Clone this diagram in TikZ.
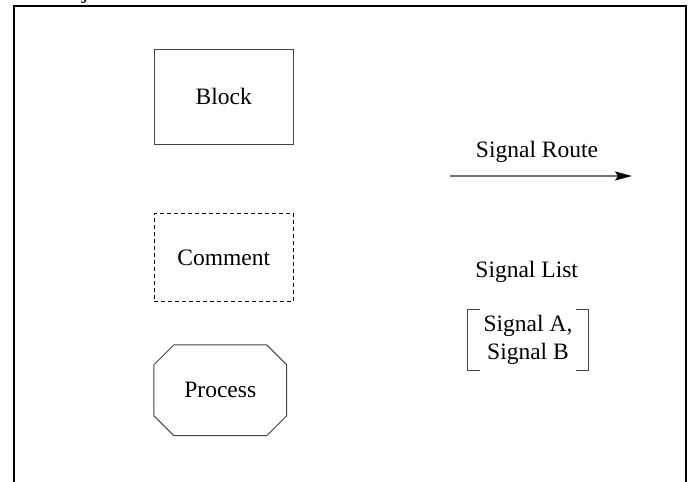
\documentclass[tikz,border=0pt]{standalone}
\usepackage{fontspec}
\setmainfont{Liberation Serif}
\usetikzlibrary{shapes.misc,arrows.meta}
\definecolor{edge}{HTML}{444444}
\definecolor{routeline}{HTML}{707070}
\begin{document}
\begin{tikzpicture}[x=1pt,y=-1pt,
  every node/.style={font=\fontsize{23.5}{28.3}\selectfont},
  blockbox/.style={draw=edge,line width=1pt,rectangle,inner sep=0pt},
  commentbox/.style={draw=black,line width=1pt,dash pattern=on 4pt off 3pt,rectangle,inner sep=0pt},
  processbox/.style={draw=edge,line width=1pt,chamfered rectangle,chamfered rectangle xsep=12pt,chamfered rectangle ysep=12pt,inner sep=0pt},
  frameline/.style={draw=black,line width=2pt},
  route/.style={draw=routeline,line width=1.2pt,-{Stealth[length=17pt,width=9pt,inset=3pt,color=black]}},
  bracket/.style={draw=edge,line width=1pt}]
\useasboundingbox (0,0) rectangle (691,482);

% outer frame, open at the bottom
\draw[frameline] (14,495) -- (14,6) -- (686,6) -- (686,495);
% tail of the frame title, cut by the top edge
\node[anchor=base west,inner sep=0pt] (title) at (82,-2) {j};

% legend shapes
\node[blockbox,minimum width=139pt,minimum height=95pt] (block) at (223.8,96.7) {Block};
\node[commentbox,minimum width=139pt,minimum height=88.4pt] (comment) at (223.7,257.5) {Comment};
\node[processbox,minimum width=132.7pt,minimum height=90.7pt] (process) at (220.3,390.3) {Process};

% signal route
\node[inner sep=0pt] (routelabel) at (537,152) {Signal Route};
\coordinate (routestart) at (450,176);
\coordinate (routeend) at (632,176);
\draw[route] (routestart) -- (routeend);

% signal list
\node[inner sep=0pt] (listlabel) at (526.7,272) {Signal List};
\node[align=center,inner sep=0pt,minimum width=120pt,minimum height=60pt] (signals) at (528,340) {Signal A,\\Signal B};
\draw[bracket] ([xshift=12pt]signals.north west) -- (signals.north west) -- (signals.south west) -- ([xshift=12pt]signals.south west);
\draw[bracket] ([xshift=-12pt]signals.north east) -- (signals.north east) -- (signals.south east) -- ([xshift=-12pt]signals.south east);
\end{tikzpicture}
\end{document}
